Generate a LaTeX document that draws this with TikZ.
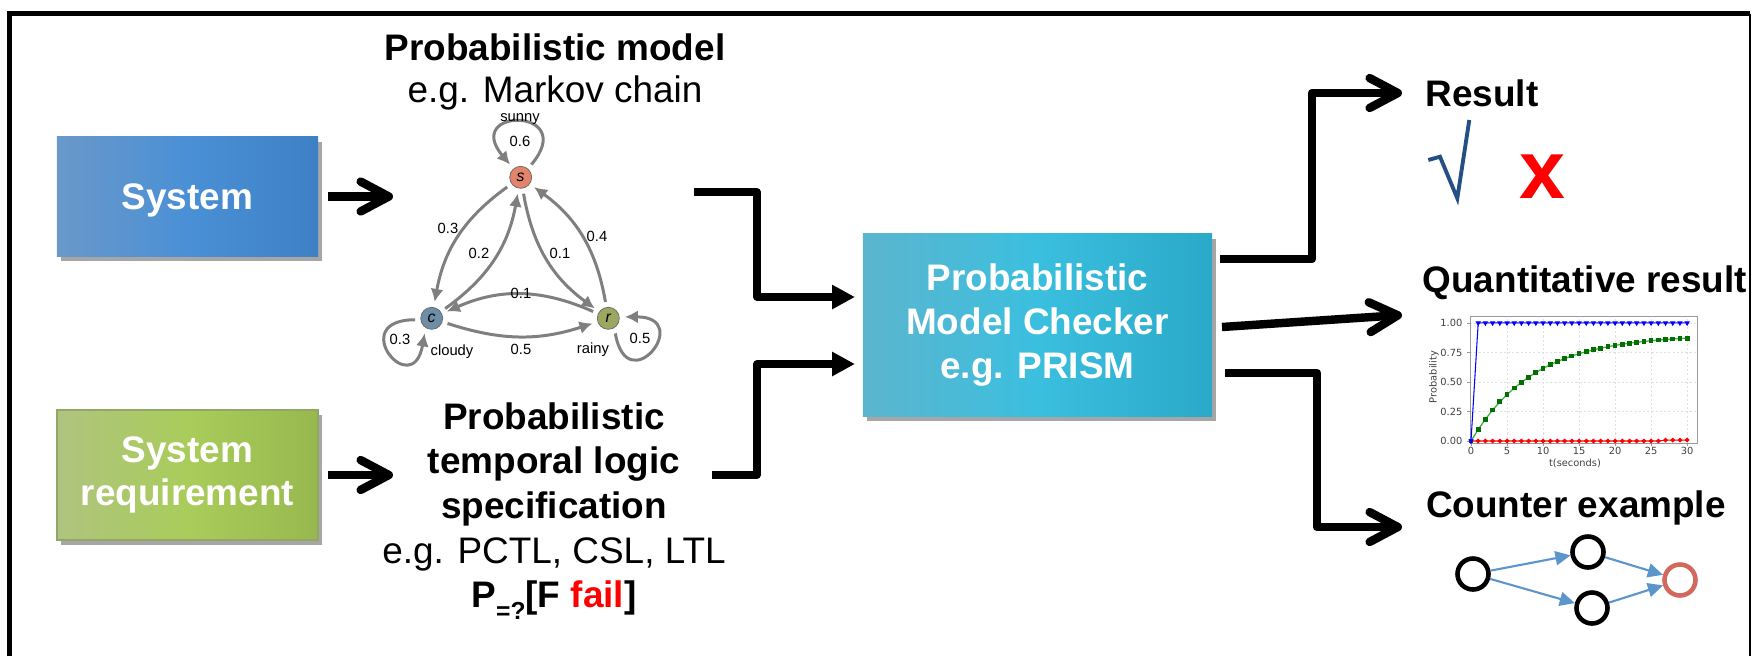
\documentclass[tikz,border=0pt]{standalone}
\usepackage{fontspec}
\setmainfont{Liberation Sans}
\newfontfamily\chartfont{DejaVu Sans}
\usetikzlibrary{arrows.meta,shadows,plotmarks}
\definecolor{sysL}{HTML}{6A98C9}
\definecolor{sysM}{HTML}{4A90D6}
\definecolor{sysR}{HTML}{3E80C4}
\definecolor{reqL}{HTML}{AFC47F}
\definecolor{reqM}{HTML}{A9CC5A}
\definecolor{reqR}{HTML}{98B84E}
\definecolor{reqB}{HTML}{8FA865}
\definecolor{pmcL}{HTML}{5CB5CE}
\definecolor{pmcM}{HTML}{3BBFDF}
\definecolor{pmcR}{HTML}{2AA9C8}
\definecolor{mkgray}{HTML}{7F7F7F}
\definecolor{sfill}{HTML}{E2836B}
\definecolor{cfill}{HTML}{6E8DA6}
\definecolor{rfill}{HTML}{9BA862}
\definecolor{ceblue}{HTML}{5B95CB}
\definecolor{cered}{HTML}{D2695E}
\definecolor{chkblue}{HTML}{234F82}
\definecolor{pgreen}{HTML}{3FA83F}
\definecolor{pdgreen}{HTML}{007000}
\begin{document}
\begin{tikzpicture}[x=0.01cm,y=0.01cm,
  boxbase/.style={text=white, align=center, inner sep=0pt,
    font=\bfseries\fontsize{10.5}{12.4}\selectfont,
    drop shadow={shadow xshift=1.2pt, shadow yshift=-1.5pt, opacity=0.35, fill=black}},
  sysbox/.style={boxbase, left color=sysL, right color=sysR, middle color=sysM,
    minimum width=2.61cm, minimum height=1.19cm, text depth=0pt},
  reqbox/.style={boxbase, draw=reqB, line width=0.4pt, left color=reqL, right color=reqR,
    middle color=reqM, minimum width=2.61cm, minimum height=1.30cm},
  pmcbox/.style={boxbase, left color=pmcL, right color=pmcR, middle color=pmcM,
    minimum width=3.49cm, minimum height=1.82cm},
  lbl/.style={align=center, inner sep=0pt},
  chev/.style={line width=2.4pt, line join=round, -{Straight Barb[length=8pt,width=8.5pt,round]}},
  inarrow/.style={line width=2pt, line join=round, -{Triangle[length=6.5pt,width=6.5pt]}},
  mknode/.style={circle, minimum size=0.22cm, inner sep=0pt, draw=black!60, line width=0.2pt,
    outer sep=1.6pt, font=\itshape\fontsize{4.5}{5}\selectfont},
  mkedge/.style={draw=mkgray, line width=0.85pt, -{Latex[length=3.7pt,width=3.7pt]}},
  mklbl/.style={font=\fontsize{4.2}{5}\selectfont, inner sep=0pt},
  gridline/.style={draw=black!12, line width=0.15pt, dash pattern=on 0.6pt off 0.6pt},
  framec/.style={draw=black!40, line width=0.25pt},
  ticklbl/.style={font=\chartfont\fontsize{2.8}{3.2}\selectfont, text=black!75, inner sep=0pt},
  cenode/.style={circle, draw=black, line width=1.3pt, minimum size=0.31cm, inner sep=0pt},
  ceedge/.style={draw=ceblue, line width=0.6pt, -{Triangle[length=4.3pt,width=4pt]}}
]
\useasboundingbox (0,0) rectangle (1753,656);

% frame
\draw[line width=1.15pt] (9.5,0) -- (9.5,642.5) -- (1750,642.5);
\draw[line width=0.6pt] (1750,642.5) -- (1750,0);

% boxes
\node[sysbox] (sys) at (187.5,459.5) {System};
\node[reqbox] (req) at (187.5,181) {System\\requirement};
\node[pmcbox] (pmc) at (1037.5,331) {Probabilistic\\Model Checker\\e.g. PRISM};

% titles
\node[lbl, font=\bfseries\fontsize{10.5}{11.8}\selectfont] (pmtitle) at (555,584)
  {Probabilistic model\\{\mdseries e.g. Markov chain}};
\node[lbl, font=\bfseries\fontsize{10.5}{12.7}\selectfont] (spec) at (554,145)
  {Probabilistic\\temporal logic\\specification\\{\mdseries e.g. PCTL, CSL, LTL}\\P\raisebox{-0.32em}{\fontsize{7}{8}\selectfont=?}[F \textcolor{red}{fail}]};

% arrow coordinates
\coordinate (mcin) at (393,459.5);
\coordinate (specin) at (393,181);
\coordinate (mcout) at (694,464);
\coordinate (specout) at (712,181);
\coordinate (in1) at (855,359);
\coordinate (in2) at (855,292);
\coordinate (out1) at (1220,397);
\coordinate (out2) at (1222,329);
\coordinate (out3) at (1225,283);
\coordinate (resin) at (1402,563);
\coordinate (qin) at (1402,341);
\coordinate (cein) at (1402,129);

\draw[chev] ([xshift=0.09cm]sys.east) -- (mcin);
\draw[chev] ([xshift=0.09cm]req.east) -- (specin);
\draw[inarrow] (mcout) -- ++(63,0) |- (in1);
\draw[inarrow] (specout) -- ++(45,0) |- (in2);
\draw[chev] (out1) -- ++(92,0) |- (resin);
\draw[chev] (out2) -- (qin);
\draw[chev] (out3) -- ++(92,0) |- (cein);

% Markov chain
\node[mknode, fill=sfill] (s) at (520.7,478.7) {s};
\node[mknode, fill=cfill] (c) at (431.7,337.7) {c};
\node[mknode, fill=rfill] (r) at (608.3,337.7) {r};
\draw[mkedge] (s) to[bend right=22] (c);
\draw[mkedge] (c) to[bend right=22] (s);
\draw[mkedge] (s) to[bend right=22] (r);
\draw[mkedge] (r) to[bend right=22] (s);
\draw[mkedge] (c) to[bend right=18] (r);
\draw[mkedge] (r) to[bend right=24] (c);
\draw[mkedge] (s.50) to[out=50,in=130,min distance=0.75cm] (s.130);
\draw[mkedge] (c.185) to[out=180,in=260,min distance=0.7cm] (c.245);
\draw[mkedge] (r.295) to[out=280,in=0,min distance=0.7cm] (r.5);
\node[mklbl] (lsun) at (520,537) {sunny};
\node[mklbl] (lss) at (520,514.3) {0.6};
\node[mklbl] (lsc) at (448,428) {0.3};
\node[mklbl] (lcs) at (479,403) {0.2};
\node[mklbl] (lsr) at (560,403) {0.1};
\node[mklbl] (lrs) at (597,420) {0.4};
\node[mklbl] (lrc) at (521,363) {0.1};
\node[mklbl] (lcr) at (521,307) {0.5};
\node[mklbl] (lcc) at (400,317) {0.3};
\node[mklbl] (lcl) at (452,304) {cloudy};
\node[mklbl] (lra) at (593,306) {rainy};
\node[mklbl] (lrr) at (640,318) {0.5};

% outputs
\node[lbl, font=\bfseries\fontsize{10.5}{12}\selectfont, anchor=west] (res) at (1425,563) {Result};
\draw[chkblue, line width=1.1pt] (1428.3,496) -- (1440,499.3) -- (1457.3,457.7) -- (1469.3,536);
\node[lbl, font=\bfseries\fontsize{23.5}{24}\selectfont, text=red] (cross) at (1542,479) {x};
\node[lbl, font=\bfseries\fontsize{10.5}{12}\selectfont, anchor=west] (qr) at (1422,373) {Quantitative result};
\node[lbl, font=\bfseries\fontsize{10.5}{12}\selectfont] (cex) at (1576,148) {Counter example};

% chart
\begin{scope}[shift={(1471,215)}, x=0.072cm, y=1.18cm]
  \foreach \t in {5,10,...,30} \draw[gridline] (\t,-0.017) -- (\t,1.051);
  \foreach \p in {0.25,0.5,0.75,1} \draw[gridline] (-0.14,\p) -- (31.4,\p);
  \draw[framec] (-0.14,-0.017) rectangle (31.4,1.051);
  \foreach \t in {0,5,...,30} {
    \draw[framec] (\t,-0.017) -- (\t,-0.04);
    \node[ticklbl, anchor=north] at (\t,-0.05) {\t};
  }
  \foreach \p/\l in {0/0.00,0.25/0.25,0.5/0.50,0.75/0.75,1/1.00} {
    \draw[framec] (-0.14,\p) -- (-0.5,\p);
    \node[ticklbl, anchor=east] at (-1.1,\p) {\l};
  }
  \draw[red, line width=0.3pt] plot[mark=*, mark size=0.5pt, samples at={0,1,...,30}] (\x,{(\x>26)*0.008});
  \draw[pgreen, line width=0.35pt, mark=square*, mark size=0.5pt, mark options={draw=pdgreen,fill=pdgreen}] plot[samples at={0,1,...,30}] (\x,{0.9*(1-exp(-\x/8.7))});
  \draw[blue, line width=0.3pt, mark=triangle*, mark size=0.6pt, mark options={rotate=180,fill=blue}] plot[samples at={0,1,...,30}] (\x,{min(\x,1)});
\end{scope}
\node[ticklbl, rotate=90] (ylab) at (1434,279) {Probability};
\node[ticklbl] (xlab) at (1575,193) {t(seconds)};

% counter example graph
\node[cenode] (n1) at (1473,82) {};
\node[cenode] (n2) at (1588,104) {};
\node[cenode] (n3) at (1592,48) {};
\node[cenode, draw=cered] (n4) at (1680,76) {};
\draw[ceedge] (n1) -- (n2);
\draw[ceedge] (n1) -- (n3);
\draw[ceedge] (n2) -- (n4);
\draw[ceedge] (n3) -- (n4);
\end{tikzpicture}
\end{document}
